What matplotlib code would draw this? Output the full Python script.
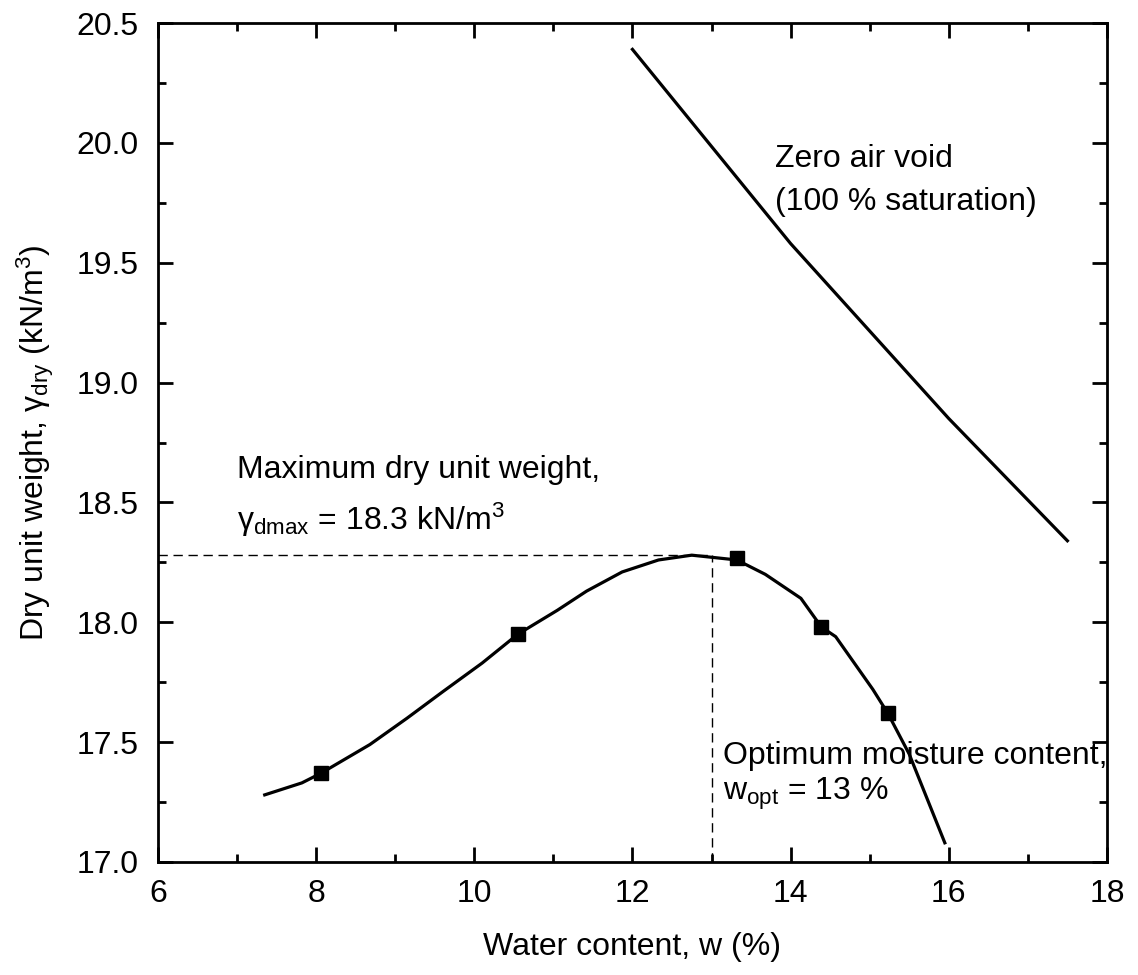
import matplotlib
matplotlib.use("Agg")
import matplotlib.pyplot as plt
from matplotlib.ticker import MultipleLocator

plt.rcParams['font.family'] = ['Liberation Sans', 'DejaVu Sans']
plt.rcParams['mathtext.fontset'] = 'custom'
plt.rcParams['mathtext.rm'] = 'Liberation Sans'
plt.rcParams['mathtext.it'] = 'Liberation Sans:italic'
plt.rcParams['mathtext.bf'] = 'Liberation Sans:bold'

# compaction test results
w_test = [8.06, 10.55, 13.32, 14.39, 15.23]
gamma_test = [17.37, 17.95, 18.27, 17.98, 17.62]

# fitted compaction curve
w_curve = [7.35, 7.82, 8.06, 8.68, 9.15, 9.60, 10.10, 10.55, 11.05, 11.42,
           11.87, 12.33, 12.75, 13.32, 13.68, 14.13, 14.39, 14.57, 15.04,
           15.23, 15.50, 15.95]
gamma_curve = [17.28, 17.33, 17.37, 17.49, 17.60, 17.71, 17.83, 17.95, 18.05,
               18.13, 18.21, 18.26, 18.28, 18.26, 18.20, 18.10, 17.98, 17.94,
               17.72, 17.62, 17.45, 17.08]

# zero air void line (S = 100 %)
w_zav = [12.0, 14.0, 16.0, 17.5]
gamma_zav = [20.39, 19.58, 18.85, 18.34]

w_opt = 13.0
gamma_max = 18.28

fig = plt.figure(figsize=(11.38, 9.75), dpi=100)
ax = fig.add_axes([0.1388, 0.1159, 0.8339, 0.8605])

ax.plot(w_curve, gamma_curve, color='black', lw=2.3, zorder=3)
ax.plot(w_test, gamma_test, linestyle='none', marker='s', ms=9.5,
        color='black', zorder=4)
ax.plot(w_zav, gamma_zav, color='black', lw=2.3, zorder=3)

# optimum point guides
ax.plot([6, w_opt], [gamma_max, gamma_max], color='black', lw=1.0,
        linestyle=(0, (6.7, 4.1)), zorder=2)
ax.plot([w_opt, w_opt], [17.0, gamma_max], color='black', lw=1.0,
        linestyle=(0, (6.7, 4.1)), zorder=2)

fs = 23
ax.text(13.80, 19.90, 'Zero air void', fontsize=fs, va='baseline')
ax.text(13.80, 19.72, '(100 % saturation)', fontsize=fs, va='baseline')
ax.text(7.0, 18.60, 'Maximum dry unit weight,', fontsize=fs, va='baseline')
ax.text(7.0, 18.385,
        'γ$_{\\mathregular{dmax}}$ = %.1f kN/m$^{\\mathregular{3}}$' % gamma_max,
        fontsize=fs, va='baseline')
ax.text(13.15, 17.41, 'Optimum moisture content,', fontsize=fs, va='baseline')
ax.text(13.15, 17.257, 'w$_{\\mathregular{opt}}$ = %g %%' % w_opt,
        fontsize=fs, va='baseline')

ax.set_xlim(6, 18)
ax.set_ylim(17.0, 20.5)
ax.xaxis.set_major_locator(MultipleLocator(2))
ax.xaxis.set_minor_locator(MultipleLocator(1))
ax.yaxis.set_major_locator(MultipleLocator(0.5))
ax.yaxis.set_minor_locator(MultipleLocator(0.25))
ax.yaxis.set_major_formatter(matplotlib.ticker.FormatStrFormatter('%.1f'))

ax.tick_params(which='both', direction='in', top=True, right=True, width=2.0)
ax.tick_params(which='major', length=11, labelsize=fs)
ax.tick_params(which='minor', length=6)
ax.tick_params(axis='x', which='major', pad=12)
ax.tick_params(axis='y', which='major', pad=14)
for s in ax.spines.values():
    s.set_linewidth(2.0)

ax.set_xlabel('Water content, w (%)', fontsize=fs, labelpad=17)
ax.set_ylabel('Dry unit weight, γ$_{\\mathregular{dry}}$ (kN/m$^{\\mathregular{3}}$)',
              fontsize=fs, labelpad=15)

fig.savefig('out.png', dpi=100)
